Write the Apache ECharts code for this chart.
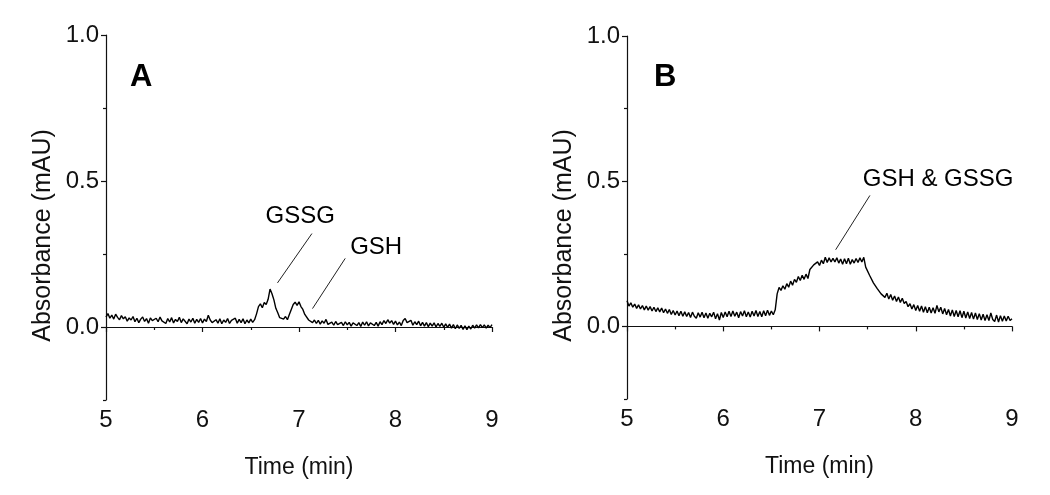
<!DOCTYPE html>
<html><head><meta charset="utf-8">
<script src="https://cdn.jsdelivr.net/npm/echarts@6/dist/echarts.min.js"></script>
<style>html,body{margin:0;padding:0;background:#fff}#c{width:1050px;height:495px}</style>
</head><body><div id="c"></div>
<script>
// Time axis sampling (min)
const tStart = 5.0, tStep = 0.02;
// Panel A absorbance (mAU), 5.00 .. 9.00 min
const absA = [
.034,.046,.030,.041,.027,.044,.033,.025,.039,.028,.035,.020,.031,.024,.036,.018,
.030,.015,.027,.034,.019,.029,.013,.031,.022,.016,
.030,.018,.034,.021,.027,.012,.029,.017,.032,.014,
.026,.019,.033,.015,.028,.022,.011,.027,.017,.030,
.013,.026,.016,.029,.014,.027,.019,.040,.024,.015,
.010,.025,.013,.028,.011,.024,.016,.029,.012,.023,
.017,.030,.013,.026,.015,.028,.011,.024,.014,.027,
.016,.025,.045,.070,.079,.066,.084,.077,.095,.130,
.114,.093,.064,.049,.032,.038,.027,.036,.025,.043,
.060,.077,.085,.074,.086,.070,.060,.043,.038,.024,
.028,.015,.024,.012,.023,.010,.021,.013,.026,.009,
.004,.017,.006,.019,.008,.002,.016,.005,.018,.007,
.016,.003,.014,.019,.005,.015,.002,.017,.006,.018,
.004,.014,.020,.005,.016,.003,.018,.008,.022,.012,
.025,.013,.022,.009,.020,.007,.017,.005,.022,.029,
.015,.010,.023,.006,.018,.008,.020,.004,.016,.003,
.015,.001,.013,.003,.014,.000,.012,.002,.013,-.001,
.011,-.001,.010,-.004,.008,-.006,.007,-.005,.006,-.008,
.004,-.009,.003,-.007,.006,-.004,.007,-.003,.008,-.002,
.007,-.004,.006,-.002,.008
];
// Panel B absorbance (mAU), 5.00 .. 9.00 min
const absB = [
.088,.070,.081,.066,.077,.062,.074,.060,.072,.057,
.070,.056,.068,.053,.066,.051,.064,.050,.063,.047,
.060,.045,.058,.041,.055,.039,.053,.037,.052,.035,
.050,.034,.048,.031,.049,.035,.028,.047,.032,.049,
.030,.046,.028,.045,.033,.049,.026,.044,.022,.048,
.031,.050,.033,.052,.034,.053,.035,.049,.030,.051,
.036,.054,.033,.050,.032,.052,.036,.055,.034,.051,
.033,.054,.037,.056,.038,.053,.040,.057,
.112,.134,.124,.140,.128,.147,.135,.156,.142,.162,
.152,.172,.158,.176,.162,.180,.165,.196,.200,.212,
.206,.222,.210,.228,.216,.238,.220,.236,.222,.234,
.222,.236,.218,.232,.214,.233,.216,.235,.214,.230,
.218,.234,.220,.236,.222,.238,.204,.198,.176,.174,
.150,.154,.130,.128,.112,.118,.100,.114,.094,.110,
.090,.105,.086,.101,.082,.097,.079,.086,.068,.078,
.060,.075,.055,.072,.052,.070,.049,.068,.047,.066,
.046,.064,.045,.072,.050,.066,.043,.062,.040,.058,
.036,.057,.034,.055,.033,.054,.030,.052,.029,.050,
.027,.048,.025,.046,.024,.044,.022,.042,.020,.040,
.020,.046,.024,.017,.039,.015,.037,.018,.036,.019,
.035,.020,.026
];
const yTicks = [0, 0.5, 1.0];
const yMinor = [-0.25, 0.25, 0.75];
const panelLabels = ['A', 'B'];
// annotation text and leader lines (data units)
const annA = [
  {text: 'GSSG', at: [7.012, 0.380], line: [[7.134, 0.320], [6.777, 0.151]]},
  {text: 'GSH',  at: [7.800, 0.273], line: [[7.479, 0.235], [7.140, 0.063]]}
];
const annB = [
  {text: 'GSH & GSSG', at: [8.232, 0.507], line: [[7.524, 0.451], [7.168, 0.264]]}
];

const FONT = "'Liberation Sans', Arial, sans-serif";
const INK = '#111';
function pairs(arr) { return arr.map((v, i) => [+(tStart + i * tStep).toFixed(2), v]); }

const grids = [
  {left: 106, width: 386, top: 35, height: 365},
  {left: 627, width: 385, top: 36, height: 363}
];
const xAxes = [], yAxes = [], series = [];
[absA, absB].forEach((arr, g) => {
  xAxes.push({
    type: 'value', gridIndex: g, min: 5, max: 9, interval: 1,
    name: 'Time (min)', nameLocation: 'middle', nameGap: 56,
    nameTextStyle: {fontFamily: FONT, fontSize: 23, color: INK},
    axisLine: {lineStyle: {color: INK, width: 1.2}},
    axisTick: {show: true, length: 5, lineStyle: {color: INK, width: 1.2}},
    minorTick: {show: true, splitNumber: 2, length: 3, lineStyle: {color: INK, width: 1.2}},
    axisLabel: {fontFamily: FONT, fontSize: 24, color: INK, margin: 8},
    splitLine: {show: false}
  });
  yAxes.push({
    type: 'value', gridIndex: g, min: -0.25, max: 1.0, position: 'left',
    name: 'Absorbance (mAU)', nameLocation: 'middle', nameGap: 50,
    nameTextStyle: {fontFamily: FONT, fontSize: 25, color: INK, padding: [0, 36, 0, 0]},
    axisLine: {show: true, lineStyle: {color: INK, width: 1.2}},
    axisTick: {show: true, length: 5, customValues: yTicks, lineStyle: {color: INK, width: 1.2}},
    axisLabel: {fontFamily: FONT, fontSize: 24, color: INK, margin: 7, customValues: yTicks,
      formatter: v => v.toFixed(1)},
    splitLine: {show: false}
  });
  yAxes.push({
    type: 'value', gridIndex: g, min: -0.25, max: 1.0, position: 'left', offset: 0,
    axisLine: {show: false},
    axisTick: {show: true, length: 3, customValues: yMinor, lineStyle: {color: INK, width: 1.2}},
    axisLabel: {show: false},
    splitLine: {show: false}
  });
  series.push({
    type: 'line', xAxisIndex: g, yAxisIndex: g * 2, data: pairs(arr),
    showSymbol: false, symbol: 'none', smooth: false, sampling: null,
    lineStyle: {color: '#000', width: 1.4}, silent: true, z: 3
  });
  const ann = g === 0 ? annA : annB;
  ann.forEach(a => {
    series.push({
      type: 'line', xAxisIndex: g, yAxisIndex: g * 2, data: a.line,
      showSymbol: false, symbol: 'none', lineStyle: {color: '#222', width: 1}, silent: true
    });
    series.push({
      type: 'scatter', xAxisIndex: g, yAxisIndex: g * 2, data: [a.at], symbolSize: 0,
      silent: true, itemStyle: {opacity: 1},
      label: {show: true, position: 'inside', formatter: a.text, fontFamily: FONT,
        fontSize: 24, color: '#000', opacity: 1, align: 'center', verticalAlign: 'middle'}
    });
  });
});

const chart = echarts.init(document.getElementById('c'), null, {renderer: 'canvas'});
chart.setOption({
  backgroundColor: '#fff',
  animation: false,
  grid: grids,
  xAxis: xAxes,
  yAxis: yAxes,
  series: series,
  graphic: panelLabels.map((t, i) => ({
    type: 'text', left: i === 0 ? 130 : 654, top: 62,
    style: {text: t, font: "bold 31px 'Liberation Sans', Arial, sans-serif", fill: '#000'}
  }))
});
</script></body></html>
